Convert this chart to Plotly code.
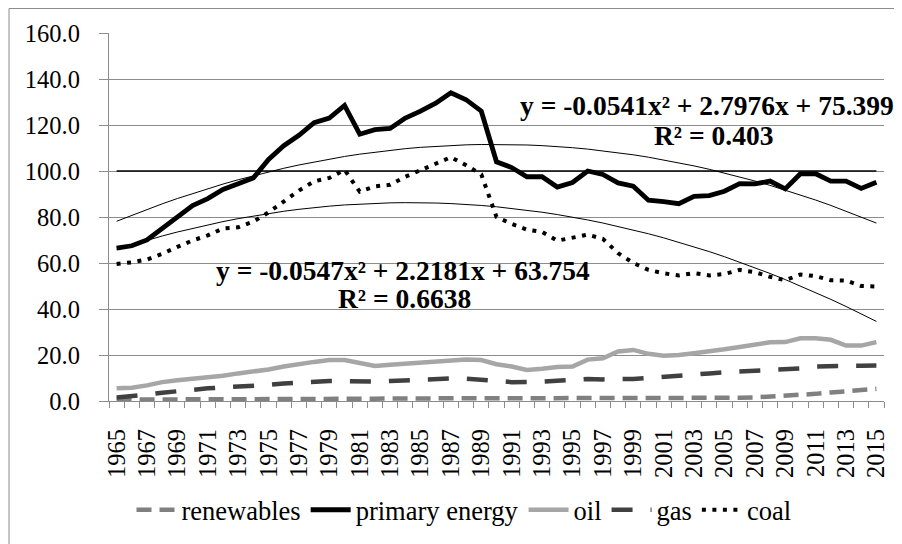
import numpy as np
import plotly.graph_objects as go

# Jahresreihen (Index, 1965-2015)
years = list(range(1965, 2016))

renewables = [0.6, 0.6, 0.7, 0.7, 0.7, 0.8, 0.8, 0.8, 0.8, 0.9,
              0.9, 0.9, 0.9, 1.0, 1.0, 1.0, 1.0, 1.0, 1.1, 1.1,
              1.1, 1.1, 1.1, 1.1, 1.1, 1.1, 1.1, 1.2, 1.2, 1.2,
              1.2, 1.2, 1.2, 1.2, 1.2, 1.2, 1.2, 1.2, 1.2, 1.3,
              1.3, 1.4, 1.6, 1.9, 2.3, 2.7, 3.1, 3.7, 4.2, 4.8, 5.3]

primary = [66.5, 67.5, 70, 75, 80.5, 85, 88, 92, 94.5, 97,
           105, 111, 115.5, 121, 123, 128.5, 116, 118, 118.5, 123,
           126, 129.5, 134, 131, 126, 104, 101.5, 97.5, 97.5, 93,
           95, 100, 98.5, 94.8, 93.4, 87.3, 86.7, 85.8, 89, 89.3,
           91.2, 94.5, 94.4, 95.6, 92.2, 98.8, 98.8, 95.6, 95.6, 92.4, 95.1]

oil = [5.5, 5.8, 6.8, 8.2, 9, 9.6, 10, 11, 12, 12.8,
       13.7, 15, 16.2, 17, 17.8, 17.8, 16.5, 15.2, 15.8, 16.2,
       16.5, 17, 17.5, 18, 17.8, 16, 15, 13.5, 14, 14.8,
       15, 18, 18.6, 21.5, 22.2, 20.5, 19.7, 20, 20.8, 21.5,
       22.5, 23.5, 24.3, 25.5, 25.6, 27.3, 27.3, 26.6, 24.1, 24.1, 25.6]

gas = [1.5, 2, 2.8, 3.6, 4.3, 5, 5.5, 5.9, 6.2, 6.6,
       7, 7.6, 8, 8.5, 8.7, 8.6, 8.4, 8.5, 8.7, 9,
       9.3, 9.6, 9.8, 9.7, 9.4, 8.8, 8.2, 8.1, 8.4, 8.8,
       9.2, 9.6, 9.4, 9.4, 9.6, 10, 10.4, 10.8, 11.3, 12,
       12.5, 12.8, 13, 13.3, 13.6, 14.2, 15, 15.3, 15.3, 15.3, 15.4]

coal = [59.6, 60.3, 61.5, 64, 67, 69.8, 72, 75, 75.5, 78,
        82, 87, 91.5, 95.5, 97, 100.5, 91, 93.3, 94, 97.5,
        100.2, 103, 106, 102.5, 98.5, 80, 77, 74.5, 73.5, 69.7,
        71, 72.3, 70.5, 64.3, 60, 57, 55.5, 54.6, 55.6, 54.6,
        55.2, 57, 56, 54, 52.5, 55, 54.3, 52.5, 52.4, 50, 49.8]

baseline = [100] * len(years)

# Polynom-Trendlinien (Koeffizienten aus dem Diagramm, x = 1..51)
primary_fit = [-0.0541, 2.7976, 75.399]
coal_fit = [-0.0547, 2.2181, 63.754]

FONT = "Liberation Serif"
GRID = "#8c8c8c"

# Plotbereich im Seitenbild: x 109..884, y 33..401
def px_x(px):
    return (px - 109) / 775

def px_y(py):
    return (401 - py) / 368

fig = go.Figure()

series = [
    ("renewables", renewables, dict(color="#808080", width=4.5, dash="15px,8px")),
    ("primary energy", primary, dict(color="black", width=4.8)),
    ("oil", oil, dict(color="#a6a6a6", width=4.5)),
    ("gas", gas, dict(color="#404040", width=4.5, dash="21px,18px")),
    ("coal", coal, dict(color="black", width=4, dash="4px,6.5px")),
]
for name, vals, line in series:
    fig.add_trace(go.Scatter(x=years, y=vals, mode="lines", name=name, line=line))

fig.add_trace(go.Scatter(x=years, y=baseline, mode="lines", showlegend=False,
                         line=dict(color="black", width=1.5)))

xs = np.arange(1, len(years) + 1)
for coeffs in (primary_fit, coal_fit):
    fig.add_trace(go.Scatter(x=years, y=np.polyval(coeffs, xs), mode="lines",
                             showlegend=False, line=dict(color="black", width=1)))

# Gleichungen der Trendlinien
eqs = [
    (707, 105, "y = -0.0541x² + 2.7976x + 75.399"),
    (713, 135, "R² = 0.403"),
    (403, 270, "y = -0.0547x² + 2.2181x + 63.754"),
    (404, 298, "R² = 0.6638"),
]
for px, py, txt in eqs:
    fig.add_annotation(x=px_x(px), y=px_y(py), xref="paper", yref="paper",
                       xanchor="center", yanchor="middle",
                       text="<b>" + txt + "</b>", showarrow=False,
                       font=dict(family=FONT, size=27.5, color="black"))

# Rahmen um das Diagramm
fig.add_shape(type="rect", xref="paper", yref="paper",
              x0=px_x(9), x1=px_x(912), y0=px_y(560), y1=px_y(8.5),
              line=dict(color=GRID, width=1), layer="below")

fig.update_xaxes(
    range=[1964.5, 2015.5],
    tickvals=years[::2], ticktext=[str(y) for y in years[::2]],
    tickangle=-90, ticks="", showgrid=False,
    showline=True, linecolor=GRID, linewidth=1.3,
    minor=dict(ticks="outside", tick0=1964.5, dtick=1, ticklen=6,
               tickcolor=GRID, showgrid=False),
    tickfont=dict(family=FONT, size=24.5, color="black"),
    ticklabelstandoff=17,
)
fig.update_yaxes(
    range=[0, 160], dtick=20, tickformat=".1f",
    ticks="outside", ticklen=9, tickcolor=GRID,
    showgrid=True, gridcolor=GRID, gridwidth=1.3,
    showline=True, linecolor=GRID, linewidth=1.3, zeroline=False,
    tickfont=dict(family=FONT, size=24.5, color="black"),
    ticklabelstandoff=14,
)
fig.update_layout(
    width=902, height=544,
    margin=dict(l=101, r=26, t=25, b=151),
    plot_bgcolor="white", paper_bgcolor="white",
    font=dict(family=FONT, color="black"),
    legend=dict(orientation="h", x=px_x(464), xanchor="center",
                y=px_y(510), yanchor="middle",
                font=dict(family=FONT, size=26.5, color="black"),
                itemwidth=40),
)

fig.write_html("out.html")
